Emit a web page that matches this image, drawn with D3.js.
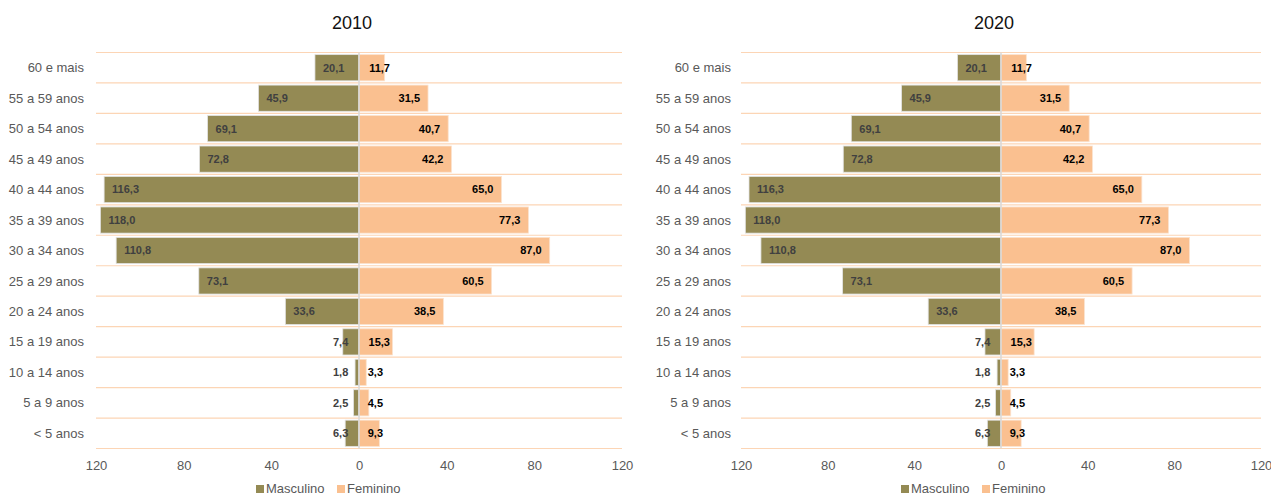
<!DOCTYPE html>
<html>
<head>
<meta charset="utf-8">
<script src="https://cdn.jsdelivr.net/npm/d3@7"></script>
<style>
  body { margin: 0; background: #fff; }
  svg { font-family: "Liberation Sans", Arial, sans-serif; }
</style>
</head>
<body>
<div id="chart"></div>
<script>
// faixas etárias, de cima para baixo
const ageGroups = ["60 e mais", "55 a 59 anos", "50 a 54 anos", "45 a 49 anos", "40 a 44 anos",
  "35 a 39 anos", "30 a 34 anos", "25 a 29 anos", "20 a 24 anos", "15 a 19 anos",
  "10 a 14 anos", "5 a 9 anos", "< 5 anos"];

const male2010 = [20.1, 45.9, 69.1, 72.8, 116.3, 118.0, 110.8, 73.1, 33.6, 7.4, 1.8, 2.5, 6.3];
const female2010 = [11.7, 31.5, 40.7, 42.2, 65.0, 77.3, 87.0, 60.5, 38.5, 15.3, 3.3, 4.5, 9.3];
const male2020 = [20.1, 45.9, 69.1, 72.8, 116.3, 118.0, 110.8, 73.1, 33.6, 7.4, 1.8, 2.5, 6.3];
const female2020 = [11.7, 31.5, 40.7, 42.2, 65.0, 77.3, 87.0, 60.5, 38.5, 15.3, 3.3, 4.5, 9.3];

const xTicks = [-120, -80, -40, 0, 40, 80, 120];
const seriesNames = ["Masculino", "Feminino"];

const maleColor = "#948A54";
const femaleColor = "#FAC090";
const gridColor = "#FCD5B5";
const textGrey = "#595959";

const width = 1271, height = 497;

const svg = d3.select("#chart").append("svg")
    .attr("width", width)
    .attr("height", height);

const fmt = v => v.toFixed(1).replace(".", ",");

function pyramid(opts) {
  const { title, male, female, left, right, labelX, legendX } = opts;
  const top = 52.5, bottom = 448.5;

  const x = d3.scaleLinear().domain([-120, 120]).range([left, right]);
  const y = d3.scaleBand().domain(ageGroups).range([top, bottom]).paddingInner(0.14).paddingOuter(0.07);

  const g = svg.append("g");
  const step = y.step();

  // linhas de grade entre as categorias
  g.selectAll(".grid")
    .data(d3.range(ageGroups.length + 1))
    .join("line")
      .attr("x1", left).attr("x2", right)
      .attr("y1", i => top + i * step)
      .attr("y2", i => top + i * step)
      .attr("stroke", gridColor)
      .attr("stroke-width", 1.2);

  const rows = ageGroups.map((a, i) => ({ age: a, m: male[i], f: female[i] }));

  // barras masculino
  g.selectAll(".male")
    .data(rows)
    .join("rect")
      .attr("x", d => x(-d.m))
      .attr("y", d => y(d.age))
      .attr("width", d => x(0) - x(-d.m))
      .attr("height", y.bandwidth())
      .attr("fill", maleColor)
      .attr("stroke", "#e3e3e3")
      .attr("stroke-width", 0.8);

  // barras feminino
  g.selectAll(".female")
    .data(rows)
    .join("rect")
      .attr("x", x(0))
      .attr("y", d => y(d.age))
      .attr("width", d => x(d.f) - x(0))
      .attr("height", y.bandwidth())
      .attr("fill", femaleColor)
      .attr("stroke", "#fbe3cf")
      .attr("stroke-width", 0.8);

  // eixo central
  g.append("line")
    .attr("x1", x(0)).attr("x2", x(0))
    .attr("y1", top).attr("y2", bottom)
    .attr("stroke", "#d9d9d9")
    .attr("stroke-width", 1.5);

  // rótulos masculino (dentro, na ponta)
  g.selectAll(".mlab")
    .data(rows)
    .join("text")
      .attr("x", d => Math.min(x(-d.m) + 8, x(0) - 8 - 18))
      .attr("y", d => y(d.age) + y.bandwidth() / 2)
      .attr("dy", "0.35em")
      .attr("font-size", 11)
      .attr("font-weight", "bold")
      .attr("fill", "#404040")
      .text(d => fmt(d.m));

  // rótulos feminino
  g.selectAll(".flab")
    .data(rows)
    .join("text")
      .attr("x", d => Math.max(x(d.f) - 8, x(0) + 8 + (d.f >= 10 ? 23 : 16)))
      .attr("y", d => y(d.age) + y.bandwidth() / 2)
      .attr("dy", "0.35em")
      .attr("text-anchor", "end")
      .attr("font-size", 11)
      .attr("font-weight", "bold")
      .attr("fill", "#000")
      .text(d => fmt(d.f));

  // categorias
  g.selectAll(".cat")
    .data(rows)
    .join("text")
      .attr("x", labelX)
      .attr("y", d => y(d.age) + y.bandwidth() / 2)
      .attr("dy", "0.35em")
      .attr("text-anchor", "end")
      .attr("font-size", 13)
      .attr("fill", textGrey)
      .text(d => d.age);

  // eixo x
  g.append("g")
    .attr("transform", `translate(0, ${bottom + 9})`)
    .call(d3.axisBottom(x).tickValues(xTicks).tickSize(0).tickFormat(d => Math.abs(d)))
    .call(a => a.select(".domain").remove())
    .call(a => a.selectAll("text")
      .attr("font-family", "Liberation Sans, Arial, sans-serif")
      .attr("font-size", 13)
      .attr("fill", textGrey));

  // título
  svg.append("text")
    .attr("x", x(0) - 7)
    .attr("y", 29)
    .attr("text-anchor", "middle")
    .attr("font-size", 18)
    .attr("fill", "#111")
    .text(title);

  // legenda
  const lg = svg.append("g").attr("transform", `translate(${legendX}, 493)`);
  const items = [{ name: seriesNames[0], c: maleColor, dx: 0 }, { name: seriesNames[1], c: femaleColor, dx: 81 }];
  items.forEach(it => {
    lg.append("rect").attr("x", it.dx).attr("y", -8).attr("width", 8).attr("height", 8).attr("fill", it.c);
    lg.append("text").attr("x", it.dx + 10).attr("y", 0).attr("font-size", 13).attr("fill", textGrey).text(it.name);
  });
}

pyramid({ title: "2010", male: male2010, female: female2010, left: 96, right: 622, labelX: 84, legendX: 256 });
pyramid({ title: "2020", male: male2020, female: female2020, left: 741, right: 1261, labelX: 731, legendX: 901 });
</script>
</body>
</html>
